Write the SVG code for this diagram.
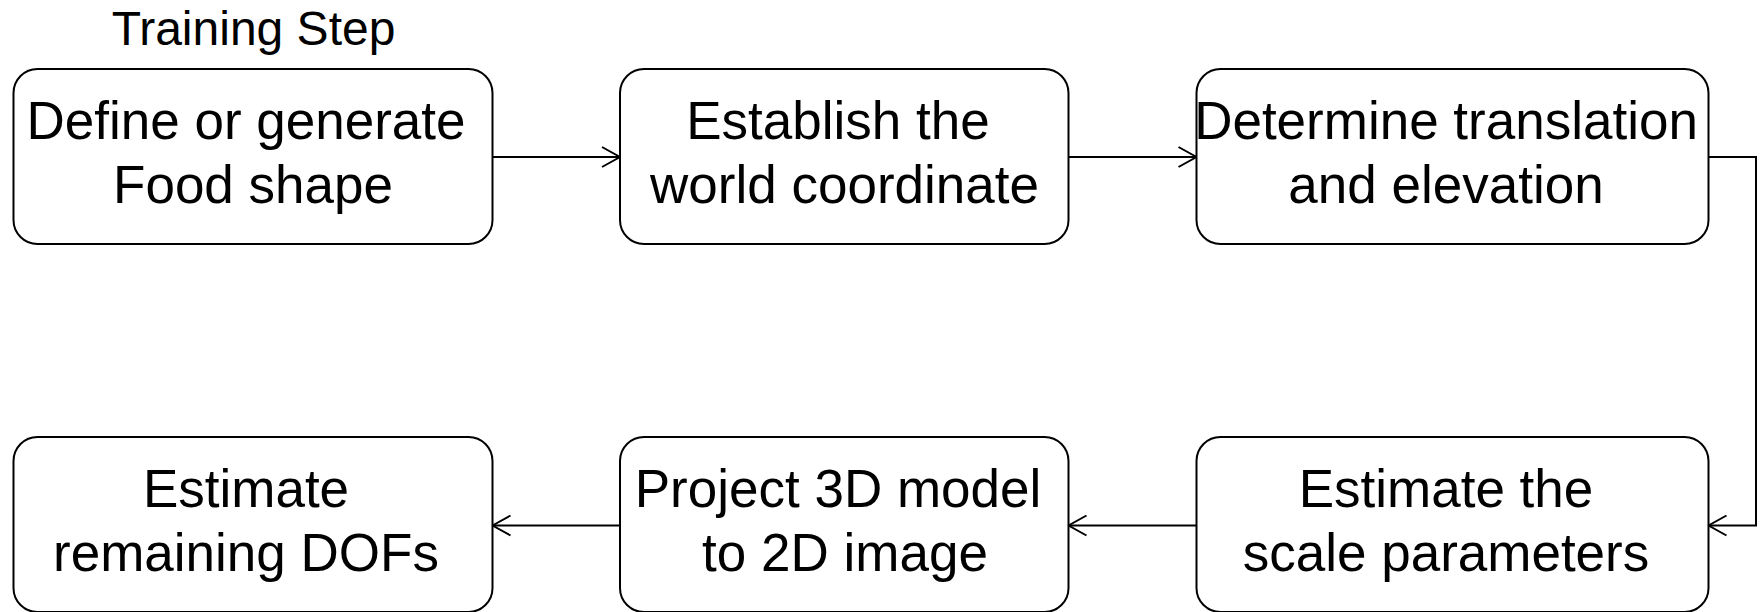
<svg xmlns="http://www.w3.org/2000/svg" width="1762" height="612" viewBox="0 0 1762 612">
<style>
.box{fill:#fff;stroke:#000;stroke-width:2}
.t{font-family:"Liberation Sans",Arial,sans-serif;font-size:53px;fill:#000;text-anchor:middle}
.title{font-family:"Liberation Sans",Arial,sans-serif;font-size:48px;fill:#000;text-anchor:middle}
.c{fill:none;stroke:#000;stroke-width:2}
</style>
<defs>
<marker id="arr" markerUnits="userSpaceOnUse" markerWidth="22" markerHeight="24" viewBox="-20 -12 22 24" refX="0" refY="0" orient="auto">
<path d="M-18,-10 L0,0 L-18,10" fill="none" stroke="#000" stroke-width="2"/>
</marker>
</defs>
<rect width="1762" height="612" fill="#fff"/>
<text class="title" x="253.5" y="45">Training Step</text>
<g id="connectors">
<path class="c" d="M492.5,157 L620,157" marker-end="url(#arr)"/>
<path class="c" d="M1068.5,157 L1196.5,157" marker-end="url(#arr)"/>
<path class="c" d="M1708.5,157 L1756,157 L1756,525.5 L1708.5,525.5" marker-end="url(#arr)"/>
<path class="c" d="M1196.5,525.5 L1068.5,525.5" marker-end="url(#arr)"/>
<path class="c" d="M620,525.5 L492.5,525.5" marker-end="url(#arr)"/>
</g>
<g id="n1">
<rect class="box" x="13.5" y="69" width="479" height="175" rx="24"/>
<text class="t" x="246" y="139">Define or generate</text>
<text class="t" x="253" y="203">Food shape</text>
</g>
<g id="n2">
<rect class="box" x="620" y="69" width="448.5" height="175" rx="24"/>
<text class="t" x="838" y="139">Establish the</text>
<text class="t" x="844.5" y="203">world coordinate</text>
</g>
<g id="n3">
<rect class="box" x="1196.5" y="69" width="512" height="175" rx="24"/>
<text class="t" x="1446" y="139">Determine translation</text>
<text class="t" x="1446" y="203">and elevation</text>
</g>
<g id="n4">
<rect class="box" x="1196.5" y="437" width="512" height="175" rx="24"/>
<text class="t" x="1446" y="507">Estimate the</text>
<text class="t" x="1446" y="571">scale parameters</text>
</g>
<g id="n5">
<rect class="box" x="620" y="437" width="448.5" height="175" rx="24"/>
<text class="t" x="838" y="507">Project 3D model</text>
<text class="t" x="845" y="571">to 2D image</text>
</g>
<g id="n6">
<rect class="box" x="13.5" y="437" width="479" height="175" rx="24"/>
<text class="t" x="246" y="507">Estimate</text>
<text class="t" x="246" y="571">remaining DOFs</text>
</g>
</svg>
